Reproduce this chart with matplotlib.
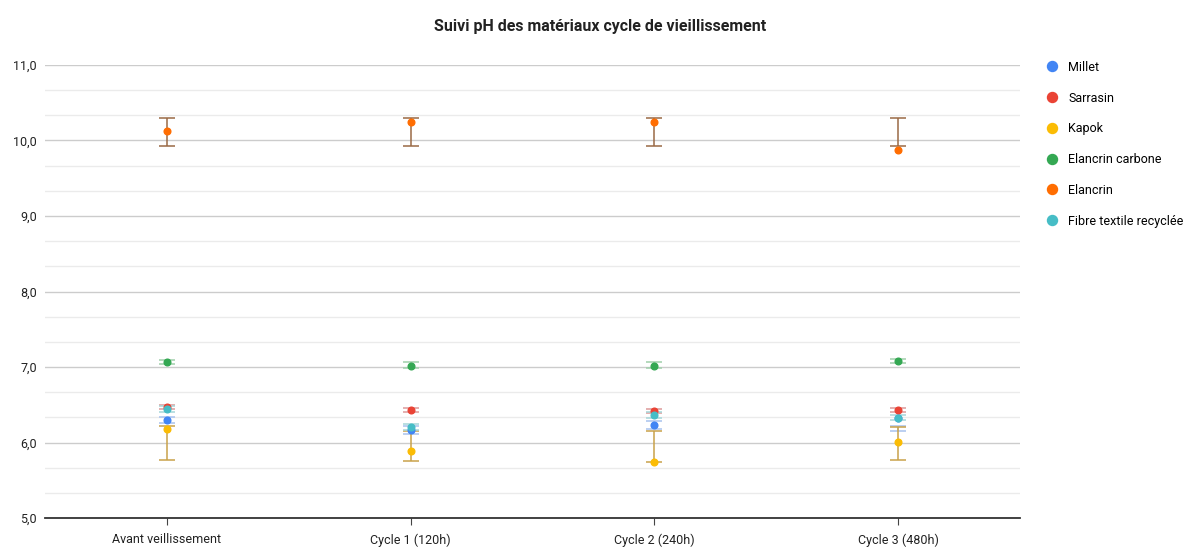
import matplotlib.pyplot as plt
import numpy as np

plt.rcParams['font.family'] = ['Roboto', 'DejaVu Sans']

categories = ['Avant veillissement', 'Cycle 1 (120h)', 'Cycle 2 (240h)', 'Cycle 3 (480h)']
series = ['Millet', 'Sarrasin', 'Kapok', 'Elancrin carbone', 'Elancrin', 'Fibre textile recyclée']
colors = ['#4285F4', '#EA4335', '#FBBC04', '#34A853', '#FF6D01', '#46BDC6']
err_colors = ['#a8c2ee', '#dc9a9a', '#c9a24a', '#a0d0ab', '#9a6a45', '#a6d6d9']

# valeurs moyennes
millet = [6.30, 6.17, 6.23, 6.33]
sarrasin = [6.47, 6.43, 6.42, 6.43]
kapok = [6.18, 5.89, 5.74, 6.01]
elancrin_carbone = [7.07, 7.02, 7.01, 7.08]
elancrin = [10.13, 10.25, 10.25, 9.87]
fibre = [6.44, 6.20, 6.36, 6.33]

# bornes des barres d'erreur (min, max)
millet_lo = [6.26, 6.12, 6.18, 6.15]
millet_hi = [6.34, 6.22, 6.28, 6.22]
sarrasin_lo = [6.44, 6.40, 6.39, 6.40]
sarrasin_hi = [6.50, 6.46, 6.45, 6.46]
kapok_lo = [5.77, 5.76, 5.74, 5.77]
kapok_hi = [6.22, 6.15, 6.15, 6.20]
carbone_lo = [7.04, 6.99, 6.99, 7.05]
carbone_hi = [7.09, 7.07, 7.07, 7.10]
elancrin_lo = [9.93, 9.93, 9.93, 9.93]
elancrin_hi = [10.30, 10.30, 10.30, 10.30]
fibre_lo = [6.40, 6.16, 6.32, 6.30]
fibre_hi = [6.48, 6.24, 6.40, 6.36]

values = [millet, sarrasin, kapok, elancrin_carbone, elancrin, fibre]
lows = [millet_lo, sarrasin_lo, kapok_lo, carbone_lo, elancrin_lo, fibre_lo]
highs = [millet_hi, sarrasin_hi, kapok_hi, carbone_hi, elancrin_hi, fibre_hi]

fig = plt.figure(figsize=(12, 5.5), dpi=100)
ax = fig.add_axes([0.0375, 0.058, 0.8125, 0.824])

x = np.arange(len(categories))
for i in range(len(series)):
    lo = np.array(lows[i])
    hi = np.array(highs[i])
    mid = (lo + hi) / 2
    ax.errorbar(x, mid, yerr=(hi - lo) / 2, fmt='none', ecolor=err_colors[i],
                elinewidth=1.1, capsize=5.5, capthick=1.1, zorder=3)
for i in range(len(series)):
    ax.plot(x, values[i], 'o', color=colors[i], markersize=4.8, label=series[i],
            linestyle='none', zorder=4)

ax.set_xlim(-0.5, 3.5)
ax.set_ylim(5, 11)
ax.set_xticks(x)
ax.set_xticklabels(categories, fontsize=9, color='#222222')
ax.set_yticks(np.arange(5, 11.5, 1))
ax.set_yticklabels([('%.1f' % v).replace('.', ',') for v in np.arange(5, 11.5, 1)],
                   fontsize=9, color='#222222')
ax.set_yticks(np.arange(5, 11, 1 / 3), minor=True)
ax.tick_params(axis='y', which='both', length=0, pad=6)
ax.tick_params(axis='x', length=5, color='#444444', pad=6)
ax.grid(axis='y', which='major', color='#cccccc', linewidth=1)
ax.grid(axis='y', which='minor', color='#ebebeb', linewidth=1)
ax.set_axisbelow(True)
for s in ['top', 'right', 'left']:
    ax.spines[s].set_visible(False)
ax.spines['bottom'].set_color('#333333')
ax.spines['bottom'].set_linewidth(1.3)

fig.suptitle('Suivi pH des matériaux cycle de vieillissement', x=0.5, y=0.965,
             fontsize=11.5, fontweight='bold', color='#222222')

ax.legend(loc='upper left', bbox_to_anchor=(1.015, 1.02), frameon=False, fontsize=9,
          handletextpad=0.3, labelspacing=1.42, borderaxespad=0, markerscale=1.5)

plt.savefig('out.png')
